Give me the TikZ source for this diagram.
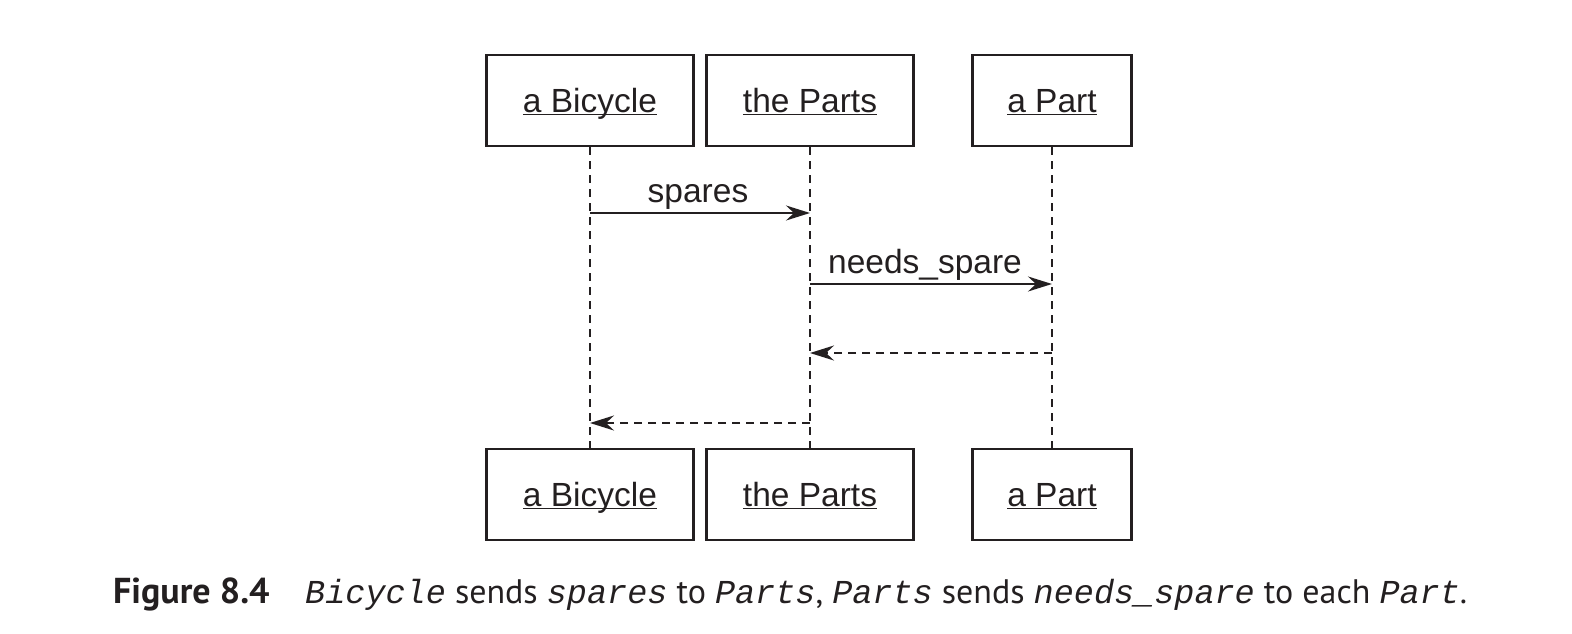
\documentclass[tikz,border=0pt]{standalone}
\usepackage{fontspec}
\setmainfont{Liberation Sans}
\newfontfamily\capsans{PT Sans}
\newfontfamily\capmono[ItalicFont={Liberation Mono Italic}]{Liberation Mono}
\usetikzlibrary{arrows.meta}
\definecolor{ink}{HTML}{231F20}
\newcommand{\objul}[1]{\underline{\smash{#1}}}
\newcommand{\cd}[1]{{\capmono\itshape\fontsize{33.5}{36}\selectfont #1}}
\tikzset{
  obj/.style={draw=ink, line width=2.3pt, minimum height=91pt, inner sep=0pt, text=ink,
    text height=24pt, text depth=0pt, font=\fontsize{33.5}{40}\selectfont},
  life/.style={draw=ink, line width=2.1pt, dash pattern=on 8pt off 6pt},
  msg/.style={draw=ink, line width=2.1pt, -{Stealth[length=24pt,width=15pt,inset=8pt]}},
  ret/.style={msg, dash pattern=on 8pt off 6pt},
  lbl/.style={text=ink, font=\fontsize{33.5}{40}\selectfont, inner sep=0pt, anchor=base}
}
\begin{document}
\begin{tikzpicture}[x=1pt,y=-1pt]
\useasboundingbox (0,0) rectangle (1572,634);
% top objects
\node[obj, minimum width=207pt] (b1) at (590,100.5) {\objul{a Bicycle}};
\node[obj, minimum width=207pt] (p1) at (810,100.5) {\objul{the Parts}};
\node[obj, minimum width=159pt] (q1) at (1052,100.5) {\objul{a Part}};
% bottom objects
\node[obj, minimum width=207pt] (b2) at (590,494.5) {\objul{a Bicycle}};
\node[obj, minimum width=207pt] (p2) at (810,494.5) {\objul{the Parts}};
\node[obj, minimum width=159pt] (q2) at (1052,494.5) {\objul{a Part}};
% lifelines
\draw[life] (b1.south) -- (b2.north);
\draw[life] (p1.south) -- (p2.north);
\draw[life] (q1.south) -- (q2.north);
% message points
\coordinate (m1a) at (b1.south |- 0,213);
\coordinate (m1b) at (p1.south |- 0,213);
\coordinate (m2a) at (p1.south |- 0,284);
\coordinate (m2b) at (q1.south |- 0,284);
\coordinate (m3a) at (q1.south |- 0,353);
\coordinate (m3b) at (p1.south |- 0,353);
\coordinate (m4a) at (p1.south |- 0,423);
\coordinate (m4b) at (b1.south |- 0,423);
\draw[msg] (m1a) -- (m1b);
\draw[msg] (m2a) -- (m2b);
\draw[ret] (m3a) -- (m3b);
\draw[ret] (m4a) -- (m4b);
\node[lbl] (l1) at (698,202) {spares};
\node[lbl] (l2) at (925,273) {needs\_spare};
% caption
\node[anchor=base west, inner sep=0pt, text=ink, font=\capsans\bfseries\fontsize{36}{40}\selectfont] (fig) at (113,603) {Figure 8.4};
\node[anchor=base west, inner sep=0pt, text=ink, font=\capsans\fontsize{34}{40}\selectfont] (cap) at (305,603)
 {\cd{Bicycle} sends \cd{spares} to \cd{Parts}, \cd{Parts} sends \cd{needs\_spare} to each \cd{Part}.};
\end{tikzpicture}
\end{document}
